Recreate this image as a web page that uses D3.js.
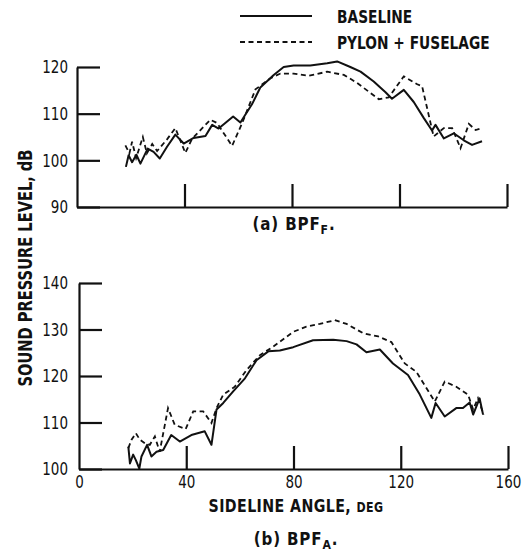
<!DOCTYPE html>
<html>
<head>
<meta charset="utf-8">
<script src="https://cdn.jsdelivr.net/npm/d3@7"></script>
<style>
  html, body { margin: 0; padding: 0; background: #fff; }
  svg text { font-family: "DejaVu Sans", sans-serif; fill: #111; }
</style>
</head>
<body>
<svg id="chart" width="525" height="551"></svg>
<script>
// Sideline directivity of blade-passing-frequency tones, two configurations.
// (a) BPF_F — forward rotor
const angleFBase = [18.2, 19.2, 20.5, 22.1, 23.6, 26.3, 28.5, 30.8, 33.5, 36.6, 39.7, 43.4, 47.8, 50.3, 52.7, 58.1, 60.8, 65.1, 68.2, 73.2, 76.9, 80.6, 86.8, 93.1, 96.8, 101.7, 105.5, 110.4, 114.8, 117.2, 121.6, 125.3, 129.0, 132.1, 133.4, 136.5, 140.2, 143.9, 147.0, 150.7];
const splFBase   = [98.6, 101.1, 99.6, 101.2, 99.3, 102.5, 101.8, 100.4, 102.9, 105.5, 103.6, 104.8, 105.2, 107.6, 106.8, 109.4, 108.1, 112.0, 115.6, 118.3, 120.0, 120.3, 120.3, 120.8, 121.2, 120.0, 119.0, 116.9, 114.6, 113.2, 115.1, 112.5, 109.1, 106.4, 107.6, 104.7, 105.8, 104.3, 103.3, 104.1];
const angleFPylon = [18.0, 19.5, 20.5, 22.0, 24.5, 26.0, 28.0, 29.8, 33.5, 36.6, 40.3, 42.8, 49.6, 52.1, 57.7, 61.4, 66.4, 72.0, 75.7, 80.6, 86.2, 93.1, 99.3, 104.2, 112.3, 116.0, 121.6, 126.6, 128.4, 132.7, 136.5, 139.6, 142.7, 145.8, 148.3, 150.7];
const splFPylon   = [103.2, 101.5, 104.0, 100.5, 105.0, 101.5, 103.5, 102.0, 104.5, 106.9, 101.6, 104.6, 108.7, 108.0, 103.1, 107.9, 115.2, 117.6, 118.6, 118.6, 118.1, 119.0, 118.3, 116.6, 113.1, 113.5, 118.0, 116.3, 115.9, 105.1, 106.9, 106.9, 102.6, 107.8, 106.5, 106.9];

// (b) BPF_A — aft rotor
const angleABase = [18.4, 19.0, 20.2, 21.2, 22.5, 23.3, 25.4, 27.0, 28.9, 31.4, 34.4, 37.6, 41.9, 46.9, 49.4, 51.3, 53.8, 57.5, 61.9, 66.2, 70.6, 74.9, 79.9, 87.3, 94.8, 99.8, 103.5, 107.2, 112.2, 117.1, 122.7, 127.1, 131.4, 133.0, 136.4, 140.7, 143.2, 145.7, 147.0, 149.4, 150.7];
const splABase   = [104.8, 101.2, 103.1, 101.9, 100.1, 102.7, 105.2, 102.7, 103.7, 104.1, 107.3, 105.9, 107.3, 108.1, 105.2, 112.8, 114.2, 116.7, 119.5, 123.4, 125.3, 125.5, 126.2, 127.7, 127.8, 127.5, 126.8, 125.1, 125.7, 122.7, 120.2, 116.0, 111.0, 114.2, 111.3, 113.1, 113.1, 114.3, 111.7, 115.2, 111.7];
const angleAPylon = [18.4, 19.6, 21.2, 22.7, 24.6, 26.4, 28.3, 30.1, 33.2, 35.7, 39.8, 42.6, 46.3, 49.4, 51.3, 53.8, 58.1, 62.5, 67.5, 72.4, 79.9, 84.8, 89.8, 95.4, 99.8, 106.0, 111.6, 116.5, 121.5, 125.8, 132.7, 136.4, 140.7, 145.1, 147.0, 148.8, 150.9];
const splAPylon   = [104.5, 106.3, 107.7, 106.3, 105.5, 105.2, 107.0, 103.7, 113.1, 109.5, 108.6, 112.4, 112.4, 109.9, 113.1, 116.0, 117.7, 121.3, 124.5, 126.3, 129.5, 130.6, 131.2, 132.0, 131.2, 129.2, 128.5, 127.3, 122.7, 120.9, 114.5, 118.8, 117.7, 116.0, 112.8, 115.2, 111.7];

const xTicks = [0, 40, 80, 120, 160];
const yTicksTop = [90, 100, 110, 120];
const yTicksBottom = [100, 110, 120, 130, 140];
const seriesNames = ["BASELINE", "PYLON + FUSELAGE"];

const svg = d3.select("#chart");
const DASH = "5,3.5";
const TICK_FONT = 18.5;
const TICK_SX = 0.73;   // horizontal squeeze for the narrow lettering

// text squeezed horizontally about its anchor point
function narrowText(x, y, sx, anchor) {
  return svg.append("text")
    .attr("transform", `translate(${x},${y}) scale(${sx},1)`)
    .attr("text-anchor", anchor);
}

function drawPanel(cfg) {
  const x = d3.scaleLinear().domain([0, 160]).range([cfg.left, cfg.right]);
  const y = d3.scaleLinear().domain(cfg.yDomain).range([cfg.bottom, cfg.top]);
  const g = svg.append("g");

  // vertical axis with inward ticks
  const yAxis = d3.axisLeft(y).tickValues(cfg.yTicks).tickSizeInner(-23).tickSizeOuter(0).tickPadding(cfg.yPad);
  const ya = g.append("g").attr("transform", `translate(${cfg.left},0)`).call(yAxis);
  ya.select(".domain").attr("stroke", "#111").attr("stroke-width", 2.2);
  ya.selectAll(".tick line").attr("stroke", "#111").attr("stroke-width", 2.2);
  ya.selectAll(".tick text").attr("font-size", TICK_FONT).attr("fill", "#111")
    .attr("font-family", "DejaVu Sans, sans-serif")
    .attr("x", -cfg.yPad / TICK_SX).attr("transform", `scale(${TICK_SX},1)`);

  // horizontal axis with upward ticks
  const xAxis = d3.axisBottom(x).tickValues(cfg.showXLabels ? xTicks : xTicks.slice(1))
    .tickSizeInner(-23).tickSizeOuter(0).tickPadding(6)
    .tickFormat(cfg.showXLabels ? d3.format("d") : () => "");
  const xa = g.append("g").attr("transform", `translate(0,${cfg.bottom})`).call(xAxis);
  xa.select(".domain").attr("stroke", "#111").attr("stroke-width", 2.2);
  xa.selectAll(".tick line").attr("stroke", "#111").attr("stroke-width", 2.2);
  xa.selectAll(".tick text").attr("font-size", TICK_FONT).attr("fill", "#111")
    .attr("font-family", "DejaVu Sans, sans-serif")
    .attr("transform", `scale(${TICK_SX},1)`);
  if (cfg.showXLabels) {
    xa.selectAll(".tick").filter(d => d === 0).select("line").remove();
  }

  const line = d3.line().x(d => x(d[0])).y(d => y(d[1]));
  g.append("path")
    .datum(d3.zip(cfg.pylonX, cfg.pylonY))
    .attr("d", line).attr("fill", "none").attr("stroke", "#111")
    .attr("stroke-width", 1.8).attr("stroke-dasharray", DASH);
  g.append("path")
    .datum(d3.zip(cfg.baseX, cfg.baseY))
    .attr("d", line).attr("fill", "none").attr("stroke", "#111")
    .attr("stroke-width", 2).attr("stroke-linejoin", "round");
}

drawPanel({
  left: 77, right: 507, top: 67, bottom: 207, yDomain: [90, 120], yTicks: yTicksTop,
  showXLabels: false, yPad: 9,
  baseX: angleFBase, baseY: splFBase, pylonX: angleFPylon, pylonY: splFPylon
});
drawPanel({
  left: 79, right: 508, top: 283, bottom: 469, yDomain: [100, 140], yTicks: yTicksBottom,
  showXLabels: true, yPad: 11,
  baseX: angleABase, baseY: splABase, pylonX: angleAPylon, pylonY: splAPylon
});

// legend
const legend = svg.append("g");
legend.append("line").attr("x1", 240).attr("x2", 312).attr("y1", 16).attr("y2", 16)
  .attr("stroke", "#111").attr("stroke-width", 2);
legend.append("line").attr("x1", 240).attr("x2", 312).attr("y1", 42).attr("y2", 42)
  .attr("stroke", "#111").attr("stroke-width", 1.8).attr("stroke-dasharray", DASH);
seriesNames.forEach((name, i) => {
  narrowText(337, 23 + i * 26, 0.765, "start")
    .attr("font-size", 18).attr("font-weight", "bold").text(name);
});

// panel captions
function caption(cx, y, lead, sub) {
  const t = narrowText(cx, y, 0.84, "middle")
    .attr("font-size", 18).attr("font-weight", "bold").attr("letter-spacing", 1);
  t.append("tspan").text(lead);
  t.append("tspan").attr("dy", 4).attr("font-size", 13).text(sub);
  t.append("tspan").attr("dy", -4).text(".");
}
caption(294, 230, "(a) BPF", "F");
caption(296, 545, "(b) BPF", "A");

// axis titles
const xt = narrowText(296, 512, 0.79, "middle")
  .attr("font-size", 18).attr("font-weight", "bold").attr("letter-spacing", 0.5);
xt.append("tspan").text("SIDELINE ANGLE, ");
xt.append("tspan").attr("font-size", 14).text("DEG");

svg.append("text").attr("transform", "translate(32,268) rotate(-90) scale(0.77,1)")
  .attr("text-anchor", "middle").attr("font-size", 19).attr("font-weight", "bold")
  .text("SOUND PRESSURE LEVEL, dB");
</script>
</body>
</html>
